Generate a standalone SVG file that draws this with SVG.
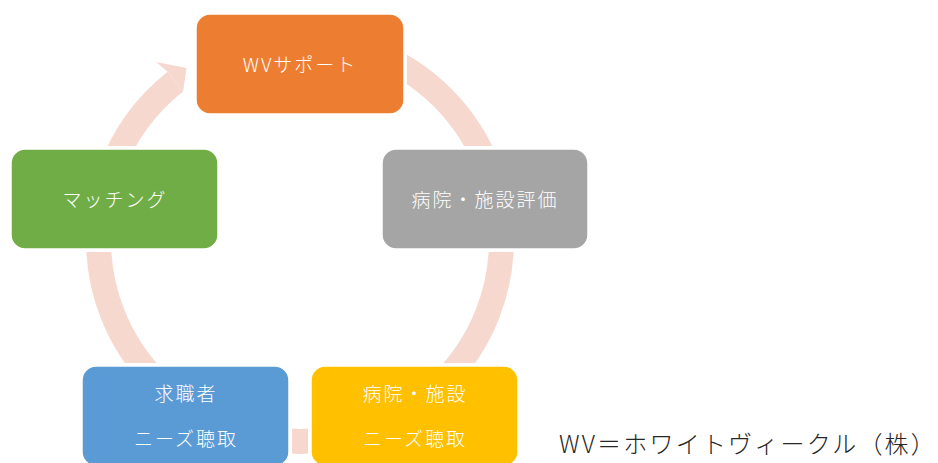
<svg xmlns="http://www.w3.org/2000/svg" width="938" height="463" viewBox="0 0 938 463">
<style>
.arc{fill:none;stroke:#F7D8CE;stroke-width:25;stroke-linecap:butt}
.head{fill:#F7D8CE}
.halo{fill:#FFFFFF}
.box{stroke:#FFFFFF;stroke-width:1.5}
.lbl{font-family:"Noto Sans CJK JP","Noto Sans",sans-serif;font-weight:300;font-size:19px;fill:#FFFFFF;text-anchor:middle;dominant-baseline:central;letter-spacing:2px}
.note{font-family:"Noto Sans CJK JP","Noto Sans",sans-serif;font-weight:300;font-size:24px;fill:#262626;dominant-baseline:central;letter-spacing:2.2px;text-anchor:end}
</style>
<rect width="938" height="463" fill="#FFFFFF"/>
<g id="connectors">
<path class="arc" d="M368.9,50.65 A201.5,201.5 0 0 1 489.35,171.1"/>
<path class="arc" d="M501.38,232.97 A201.5,201.5 0 0 1 442.48,382.48"/>
<path class="arc" d="M334.99,438.44 A201.5,201.5 0 0 1 265.01,438.44"/>
<path class="arc" d="M157.52,382.48 A201.5,201.5 0 0 1 98.62,232.97"/>
<path class="arc" d="M110.65,171.09 A201.5,201.5 0 0 1 175.39,81.64"/>
<polygon class="head" points="167.7,71.8 156,62 186.5,68 183.1,91.5"/>
</g>
<g id="node-wv">
<rect class="halo" x="193" y="11" width="214" height="106" rx="17"/>
<rect class="box" x="196" y="14" width="208" height="100" rx="14" fill="#ED7D31"/>
<text class="lbl" x="300" y="63">WVサポート</text>
</g>
<g id="node-eval">
<rect class="halo" x="379" y="146" width="212" height="106" rx="17"/>
<rect class="box" x="382" y="149" width="206" height="100" rx="14" fill="#A5A5A5"/>
<text class="lbl" x="485" y="198">病院・施設評価</text>
</g>
<g id="node-facility">
<rect class="halo" x="308" y="363" width="213" height="106" rx="17"/>
<rect class="box" x="311" y="366" width="207" height="100" rx="14" fill="#FFC000"/>
<text class="lbl" x="415" y="392">病院・施設</text>
<text class="lbl" x="415" y="437">ニーズ聴取</text>
</g>
<g id="node-seeker">
<rect class="halo" x="79" y="363" width="213" height="106" rx="17"/>
<rect class="box" x="82" y="366" width="207" height="100" rx="14" fill="#5B9BD5"/>
<text class="lbl" x="186" y="392">求職者</text>
<text class="lbl" x="186" y="437">ニーズ聴取</text>
</g>
<g id="node-matching">
<rect class="halo" x="8" y="146" width="213" height="106" rx="17"/>
<rect class="box" x="11" y="149" width="207" height="100" rx="14" fill="#70AD47"/>
<text class="lbl" x="115" y="198">マッチング</text>
</g>
<text class="note" x="937" y="442">WV＝ホワイトヴィークル（株）</text>
</svg>
